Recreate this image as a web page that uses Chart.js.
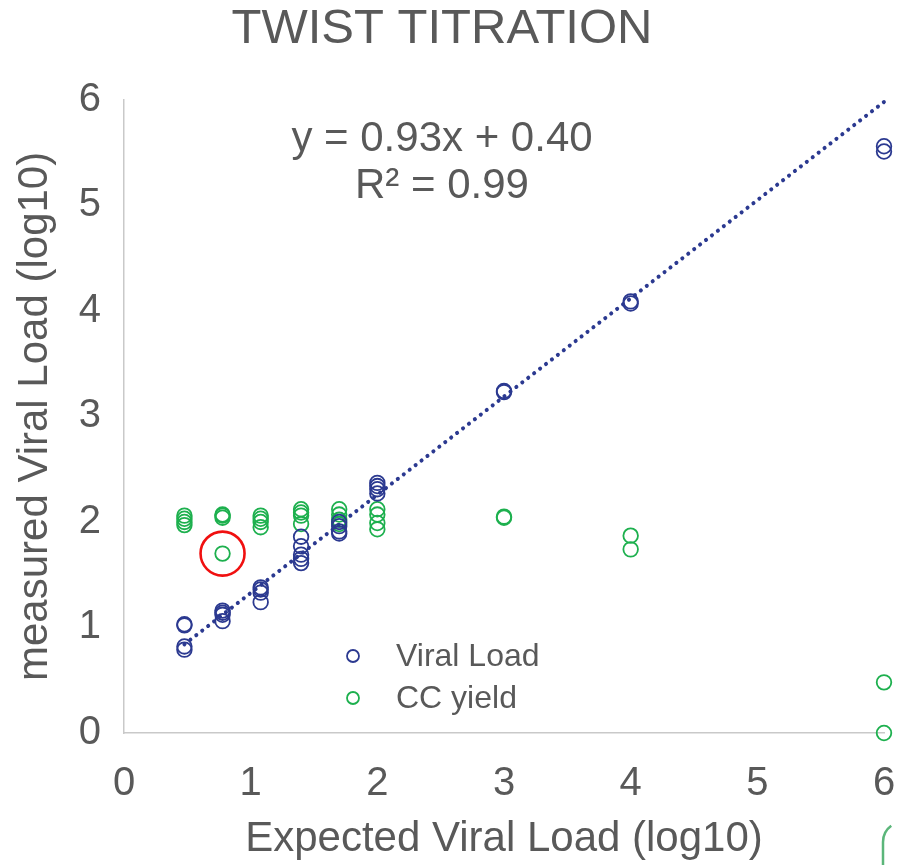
<!DOCTYPE html>
<html>
<head>
<meta charset="utf-8">
<script src="https://cdn.jsdelivr.net/npm/chart.js@4.4.0/dist/chart.umd.min.js"></script>
<style>
  html, body { margin: 0; padding: 0; background: #fff; }
  #wrap { width: 898px; height: 865px; position: relative; }
</style>
</head>
<body>
<div id="wrap"><canvas id="titration"></canvas></div>
<script>
// Data
const viralX = [0.477, 0.477, 0.477, 0.477,
                0.778, 0.778, 0.778, 0.778,
                1.079, 1.079, 1.079, 1.079,
                1.398, 1.398, 1.398, 1.398, 1.398,
                1.699, 1.699, 1.699, 1.699,
                2, 2, 2, 2,
                3, 3,
                4, 4,
                6, 6];
const viralY = [1.03, 1.02, 0.82, 0.79,
                1.16, 1.14, 1.12, 1.06,
                1.38, 1.36, 1.33, 1.24,
                1.86, 1.77, 1.69, 1.65, 1.61,
                2.00, 1.96, 1.91, 1.89,
                2.37, 2.34, 2.31, 2.27,
                3.24, 3.23,
                4.09, 4.07,
                5.56, 5.51];

const ccX = [0.477, 0.477, 0.477, 0.477,
             0.778, 0.778, 0.778, 0.778,
             1.079, 1.079, 1.079, 1.079,
             1.398, 1.398, 1.398, 1.398,
             1.699, 1.699, 1.699, 1.699,
             2, 2, 2, 2,
             3, 3,
             4, 4,
             6, 6];
const ccY = [2.06, 2.03, 2.00, 1.97,
             2.07, 2.06, 2.04, 1.70,
             2.06, 2.03, 2.00, 1.95,
             2.12, 2.09, 2.06, 1.98,
             2.12, 2.07, 2.02, 1.98,
             2.12, 2.07, 1.99, 1.93,
             2.05, 2.04,
             1.87, 1.74,
             0.48, 0.00];

// trendline end points (y = 0.93x + 0.40)
const trendX = [0.477, 6];
const trendY = [0.84, 5.98];
const equationLines = ['y = 0.93x + 0.40', 'R\u00B2 = 0.99'];

// the circled outlier
const outlierX = [0.778];
const outlierY = [1.70];

const seriesNames = ['Viral Load', 'CC yield'];
const axisTicks = [0, 1, 2, 3, 4, 5, 6];

const BLUE = '#2B3990';
const GREEN = '#1DB04E';
const TEXT = '#595959';
const FONT = "'Liberation Sans', Arial, sans-serif";

function toPoints(xs, ys) {
    return xs.map((x, i) => ({ x: x, y: ys[i] }));
}

// Legend, equation and the corner decoration
const overlayPlugin = {
    id: 'overlay',
    afterDraw(chart) {
        const ctx = chart.ctx;
        ctx.save();

        // equation text
        ctx.fillStyle = TEXT;
        ctx.font = '42px ' + FONT;
        ctx.textAlign = 'center';
        ctx.textBaseline = 'middle';
        ctx.fillText(equationLines[0], 442, 139);
        ctx.fillText(equationLines[1], 442, 186);

        // legend inside the plot
        const colors = [BLUE, GREEN];
        seriesNames.forEach((name, i) => {
            const y = 656 + i * 42;
            ctx.beginPath();
            ctx.arc(353, y, 6, 0, Math.PI * 2);
            ctx.strokeStyle = colors[i];
            ctx.lineWidth = 1.8;
            ctx.stroke();
            ctx.fillStyle = TEXT;
            ctx.font = '32px ' + FONT;
            ctx.textAlign = 'left';
            ctx.fillText(name, 396, y + 1);
        });

        // green rounded corner peeking in at bottom right
        ctx.beginPath();
        ctx.strokeStyle = '#5BB67A';
        ctx.lineWidth = 2.5;
        ctx.moveTo(883, 866);
        ctx.lineTo(883, 842);
        ctx.arc(903, 842, 20, Math.PI, Math.PI * 1.3);
        ctx.stroke();
        ctx.restore();
    }
};

// invisible tick marks push the labels away from the axis
const hiddenTicks = (len) => ({
    display: true,
    drawOnChartArea: false,
    drawTicks: true,
    tickLength: len,
    color: 'rgba(0,0,0,0)'
});

const ctx = document.getElementById('titration').getContext('2d');
new Chart(ctx, {
    type: 'scatter',
    data: {
        datasets: [
            {
                label: seriesNames[0],
                data: toPoints(viralX, viralY),
                pointStyle: 'circle',
                pointRadius: 7.3,
                pointBorderWidth: 1.8,
                borderColor: BLUE,
                backgroundColor: 'rgba(0,0,0,0)',
                clip: false
            },
            {
                label: seriesNames[1],
                data: toPoints(ccX, ccY),
                pointStyle: 'circle',
                pointRadius: 7.3,
                pointBorderWidth: 1.8,
                borderColor: GREEN,
                backgroundColor: 'rgba(0,0,0,0)',
                clip: false
            },
            {
                label: 'trend',
                type: 'line',
                data: toPoints(trendX, trendY),
                borderColor: BLUE,
                borderWidth: 4,
                borderDash: [0.1, 7.4],
                borderCapStyle: 'round',
                pointRadius: 0,
                fill: false,
                clip: false
            },
            {
                label: 'outlier',
                data: toPoints(outlierX, outlierY),
                pointStyle: 'circle',
                pointRadius: 22,
                pointBorderWidth: 2.6,
                borderColor: '#F01010',
                backgroundColor: 'rgba(0,0,0,0)',
                clip: false
            }
        ]
    },
    options: {
        responsive: true,
        maintainAspectRatio: false,
        animation: false,
        layout: { autoPadding: false, padding: { left: 0, right: 14, top: 0, bottom: 0 } },
        plugins: {
            legend: { display: false },
            tooltip: { enabled: false },
            title: {
                display: true,
                text: 'TWIST TITRATION',
                color: TEXT,
                font: { family: FONT, size: 49, weight: 'normal' },
                padding: { top: 0, bottom: 41 }
            }
        },
        scales: {
            x: {
                type: 'linear',
                min: 0,
                max: 6,
                afterBuildTicks: (scale) => { scale.ticks = axisTicks.map(v => ({ value: v })); },
                grid: hiddenTicks(25),
                border: { display: true, color: '#C9C9C9', width: 1.5 },
                ticks: { color: TEXT, font: { family: FONT, size: 40 }, padding: 2 },
                title: {
                    display: true,
                    text: 'Expected Viral Load (log10)',
                    color: TEXT,
                    font: { family: FONT, size: 42 },
                    padding: { top: 0, bottom: 0 }
                },
                afterFit: (scale) => {
                    scale.height = 132;
                    scale.paddingLeft = 0;
                    scale.paddingRight = 0;
                }
            },
            y: {
                type: 'linear',
                min: 0,
                max: 6,
                afterBuildTicks: (scale) => { scale.ticks = axisTicks.map(v => ({ value: v })); },
                grid: hiddenTicks(21),
                border: { display: true, color: '#C9C9C9', width: 1.5 },
                ticks: { color: TEXT, font: { family: FONT, size: 40 }, padding: 2 },
                title: {
                    display: true,
                    text: 'measured Viral Load (log10)',
                    color: TEXT,
                    font: { family: FONT, size: 42 },
                    padding: { top: 10, bottom: 0 }
                },
                afterFit: (scale) => { scale.width = 124; }
            }
        }
    },
    plugins: [overlayPlugin]
});
</script>
</body>
</html>
